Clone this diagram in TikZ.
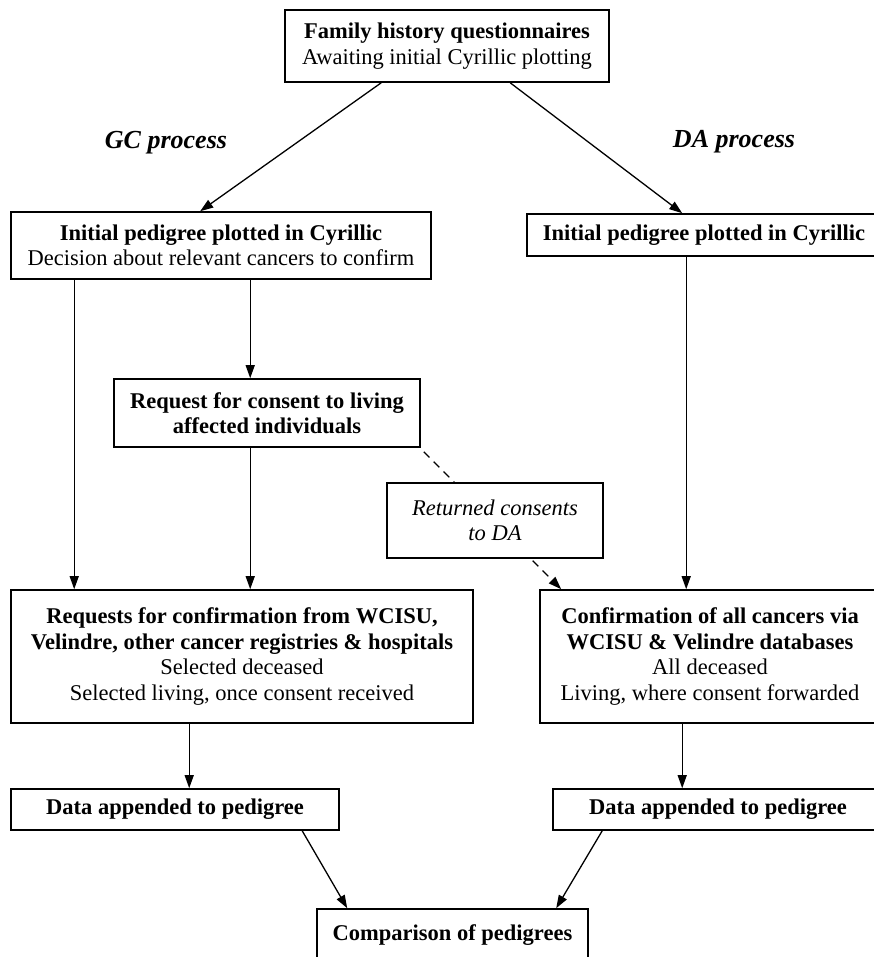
\documentclass[tikz,border=0pt]{standalone}
\usepackage{fontspec}
\setmainfont{Liberation Serif}
\usetikzlibrary{arrows.meta}
\begin{document}
\begin{tikzpicture}[x=1pt,y=1pt,
  box/.style={draw=black, line width=1.6pt, fill=white, inner sep=0pt, align=center,
    font=\fontsize{22.5}{25.5}\selectfont},
  lbl/.style={font=\fontsize{26}{30}\selectfont\bfseries\itshape, inner sep=0pt},
  arr/.style={line width=1.3pt, -{Triangle[length=13pt,width=9pt]}},
  darr/.style={arr, dash pattern=on 8pt off 6pt}]
\useasboundingbox (0,0) rectangle (874,-957);
\fill[white] (0,0) rectangle (874,-957);

\node[box, minimum width=324pt, minimum height=72pt] (top) at (447,-46)
  {\textbf{Family history questionnaires}\\Awaiting initial Cyrillic plotting};
\node[box, minimum width=420pt, minimum height=67pt] (gcinit) at (221,-245.5)
  {\textbf{Initial pedigree plotted in Cyrillic}\\Decision about relevant cancers to confirm};
\node[box, minimum width=354pt, minimum height=42pt] (dainit) at (704,-235)
  {\textbf{Initial pedigree plotted in Cyrillic}};
\node[box, minimum width=306pt, minimum height=68pt] (consent) at (267,-413)
  {\textbf{Request for consent to living}\\\textbf{affected individuals}};
\node[box, minimum width=462pt, minimum height=133pt] (gcreq) at (242,-656.5)
  {\textbf{Requests for confirmation from WCISU,}\\\textbf{Velindre, other cancer registries \& hospitals}\\Selected deceased\\Selected living, once consent received};
\node[box, minimum width=340pt, minimum height=133pt] (daconf) at (710,-656.5)
  {\textbf{Confirmation of all cancers via}\\\textbf{WCISU \& Velindre databases}\\All deceased\\Living, where consent forwarded};
\node[box, minimum width=328pt, minimum height=41pt] (ldata) at (175,-809.5)
  {\textbf{Data appended to pedigree}};
\node[box, minimum width=330pt, minimum height=41pt] (rdata) at (718,-809.5)
  {\textbf{Data appended to pedigree}};
\node[box, minimum width=271pt, minimum height=52pt] (bottom) at (452.5,-935)
  {\textbf{Comparison of pedigrees}};

\node[lbl] (gclbl) at (166,-143) {GC process};
\node[lbl] (dalbl) at (734,-142) {DA process};

\draw[arr] ([xshift=97pt]top.south west) -- ([xshift=190pt]gcinit.north west);
\draw[arr] ([xshift=226pt]top.south west) -- ([xshift=156pt]dainit.north west);
\draw[arr] ([xshift=64pt]gcinit.south west) -- ([xshift=64pt]gcreq.north west);
\draw[arr] ([xshift=240pt]gcinit.south west) -- ([xshift=137pt]consent.north west);
\draw[arr] ([xshift=137pt]consent.south west) -- ([xshift=240pt]gcreq.north west);
\draw[arr] ([xshift=160pt]dainit.south west) -- ([xshift=147pt]daconf.north west);
\draw[arr] ([xshift=179pt]gcreq.south west) -- ([xshift=179pt]ldata.north west);
\draw[arr] ([xshift=143pt]daconf.south west) -- ([xshift=130pt]rdata.north west);
\draw[arr] ([xshift=292pt]ldata.south west) -- ([xshift=31pt]bottom.north west);
\draw[arr] ([xshift=50pt]rdata.south west) -- ([xshift=240pt]bottom.north west);
\draw[darr] ([shift={(3pt,-4pt)}]consent.south east) -- ([xshift=22pt]daconf.north west);

\node[box, minimum width=216pt, minimum height=75pt] (ret) at (495,-520.5)
  {\textit{Returned consents}\\\textit{to DA}};
\end{tikzpicture}
\end{document}
